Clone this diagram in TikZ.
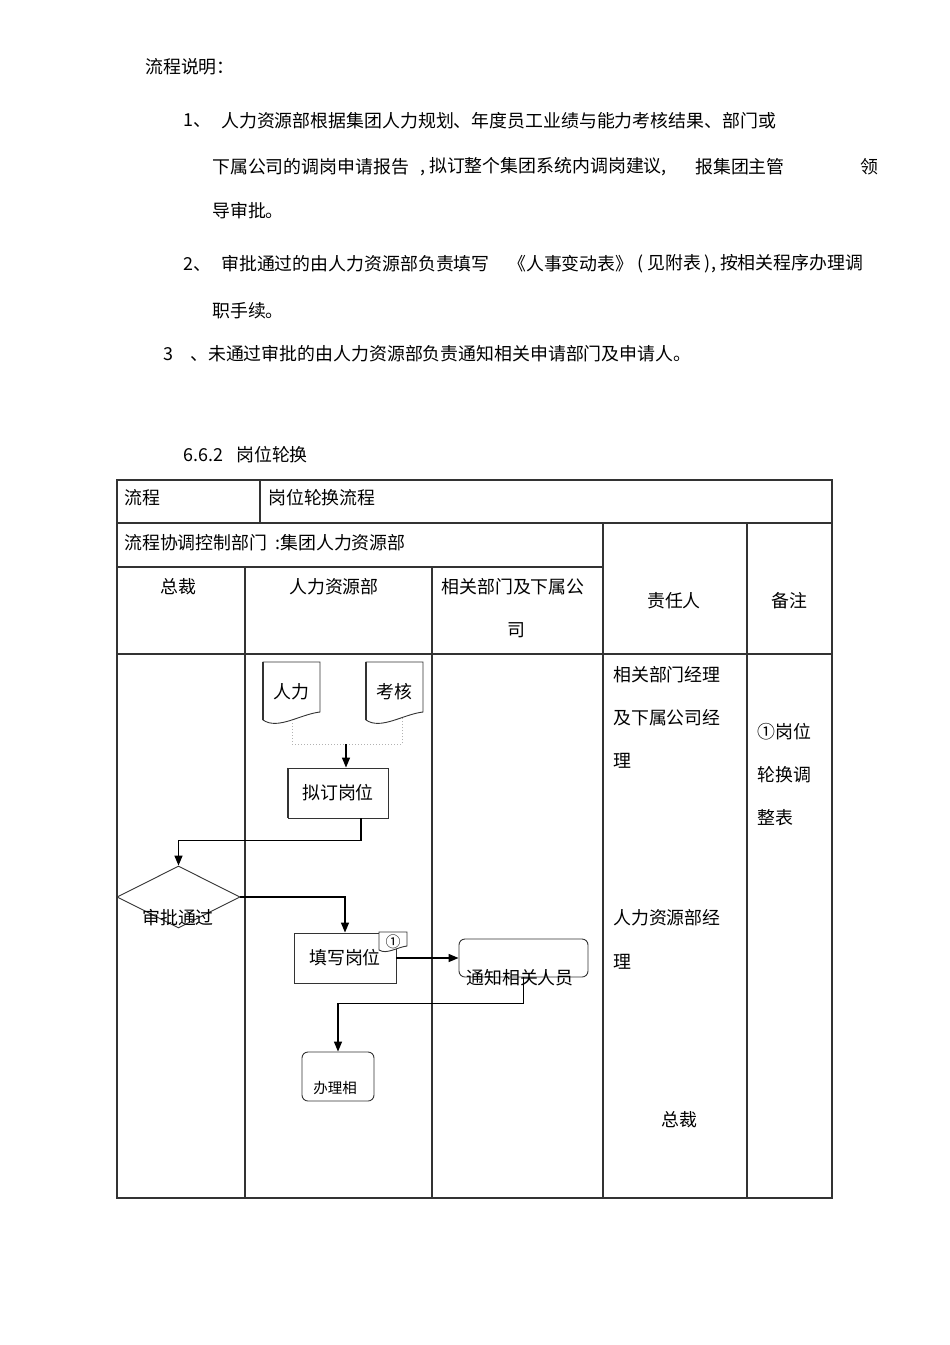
\documentclass[tikz,border=0pt]{standalone}
\usepackage{fontspec}
\setmainfont{Noto Sans CJK SC}
\usetikzlibrary{shapes.geometric,arrows.meta}

% document symbol: left, top, right, foot of the straight right edge
\newcommand{\docshape}[4]{%
  \filldraw[fill=white, draw=black!80, line width=0.9pt] (#1,#2) -- (#3,#2) -- (#3,#4)
    .. controls ({#3-0.35*(#3-#1)},{#4+0.04*(#3-#1)}) and ({#1+0.26*(#3-#1)},{#4+0.32*(#3-#1)})
    .. (#1,{#4+0.14*(#3-#1)}) -- cycle;}

\begin{document}
\begin{tikzpicture}[x=1pt, y=-1pt,
  font=\fontsize{17.9}{21}\selectfont,
  txt/.style={anchor=west, inner sep=0pt},
  mid/.style={inner sep=0pt},
  lane/.style={draw=black!80, line width=1.1pt},
  procbox/.style={rectangle, draw=black!80, line width=0.9pt, fill=white, inner sep=0pt},
  endbox/.style={procbox, rounded corners=6pt},
  decision/.style={diamond, draw=black!80, line width=0.9pt, inner sep=0pt,
    minimum width=123pt, minimum height=62pt},
  flow/.style={draw=black, line width=1.4pt, -{Triangle[length=10pt,width=8pt]}},
  guide/.style={draw=gray!60, dotted, line width=1pt}]

\fill[white] (0,0) rectangle (950,1345);
\useasboundingbox (0,0) rectangle (950,1345);

% notes above the table
\node[txt] (head) at (145,67) {流程说明：};
\node[txt] (n1) at (183,121) {1、};
\node[txt] (n1a) at (221,121) {人力资源部根据集团人力规划、年度员工业绩与能力考核结果、部门或};
\node[txt] (n1b) at (212,167) {下属公司的调岗申请报告};
\node[txt] (n1c) at (420,167) {, 拟订整个集团系统内调岗建议,};
\node[txt] (n1d) at (695,167) {报集团主管};
\node[txt] (n1e) at (860,167) {领};
\node[txt] (n1f) at (212,211) {导审批。};
\node[txt] (n2) at (183,264) {2、};
\node[txt] (n2a) at (221,264) {审批通过的由人力资源部负责填写};
\node[txt] (n2b) at (508,264) {《人事变动表》};
\node[txt] (n2c) at (637,264) {( 见附表 ), 按相关程序办理调};
\node[txt] (n2d) at (212,311) {职手续。};
\node[txt] (n3) at (163,354) {3};
\node[txt] (n3a) at (190,354) {、未通过审批的由人力资源部负责通知相关申请部门及申请人。};
\node[txt] (sec) at (183,455) {6.6.2};
\node[txt] (sectitle) at (236,455) {岗位轮换};

% table grid
\def\xa{117}; % left
\def\xs{260}; % first row split
\def\xb{245};
\def\xc{432};
\def\xd{603};
\def\xe{747};
\def\xf{832}; % right
\def\ya{480}; % top
\def\yb{523};
\def\yc{567};
\def\yd{654}; % header bottom
\def\ye{1198}; % bottom

\draw[lane] (\xa,\ya) rectangle (\xf,\ye);
\draw[lane] (\xa,\yb) -- (\xf,\yb);
\draw[lane] (\xs,\ya) -- (\xs,\yb);
\draw[lane] (\xa,\yc) -- (\xd,\yc);
\draw[lane] (\xa,\yd) -- (\xf,\yd);
\draw[lane] (\xd,\yb) -- (\xd,\ye);
\draw[lane] (\xe,\yb) -- (\xe,\ye);
\draw[lane] (\xb,\yc) -- (\xb,\ye);
\draw[lane] (\xc,\yc) -- (\xc,\ye);

\node[txt] (cflow) at (124,498) {流程};
\node[txt] (cname) at (268,498) {岗位轮换流程};
\node[txt] (cdept) at (124,543) {流程协调控制部门\hspace{8pt}:集团人力资源部};
\node[mid] (hceo) at (178,587) {总裁};
\node[mid] (hhr) at (334,587) {人力资源部};
\node[mid] (hsub) at (513,587) {相关部门及下属公};
\node[mid] (hsub2) at (516,630) {司};
\node[mid] (hduty) at (674,601) {责任人};
\node[mid] (hnote) at (789,601) {备注};

\node[txt] (r1) at (613,675) {相关部门经理};
\node[txt] (r2) at (613,718) {及下属公司经};
\node[txt] (r3) at (613,761) {理};
\node[txt] (r4) at (613,918) {人力资源部经};
\node[txt] (r5) at (613,962) {理};
\node[mid] (r6) at (679,1120) {总裁};
\node[txt] (m1) at (757,732) {①岗位};
\node[txt] (m2) at (757,775) {轮换调};
\node[txt] (m3) at (757,818) {整表};

% flow
\docshape{263}{662}{320}{712}
\docshape{366}{662}{423}{712}
\draw[line width=1.6pt, black!80] (263,662) -- (263,720);
\draw[line width=1.6pt, black!80] (366,662) -- (366,720);
\node[mid] (renli) at (291,692) {人力};
\node[mid] (kaohe) at (394,692) {考核};
\coordinate (renlifoot) at (292,723);
\coordinate (kaohefoot) at (402,716);
\coordinate (hub) at (346,744);

\node[procbox, minimum width=100pt, minimum height=50pt] (niding) at (338,793) {拟订岗位};
\draw[line width=1.6pt, black!80] (niding.north west) -- (niding.south west);
\node[decision] (shenpi) at (178.5,897) {};
\node[mid] (shenpitxt) at (178,918) {审批通过};
\node[procbox, minimum width=102pt, minimum height=50pt] (tianxie) at (345,958) {填写岗位};
\docshape{379}{932}{407}{946}
\node[mid, font=\fontsize{15}{17}\selectfont] (tag) at (393,942) {①};
\node[endbox, minimum width=129pt, minimum height=38pt] (tongzhi) at (523.5,958) {};
\node[mid] (tongzhitxt) at (520,978) {通知相关人员};
\node[endbox, minimum width=72pt, minimum height=49pt] (banli) at (338,1076.5) {};
\node[mid, font=\fontsize{14.5}{17}\selectfont] (banlitxt) at (335,1088) {办理相};

\draw[guide] (renlifoot) |- (hub) -| (kaohefoot);
\draw[flow] (hub) -- (hub |- niding.north);
\draw[flow] ([xshift=23pt]niding.south) -- ++(0,22) -| (shenpi.north);
\draw[flow] (shenpi.east) -| (tianxie.north);
\draw[flow] (tianxie.east) -- (tongzhi.west);
\draw[flow] (tongzhi.south) -- ++(0,26) -| (banli.north);

\end{tikzpicture}
\end{document}
